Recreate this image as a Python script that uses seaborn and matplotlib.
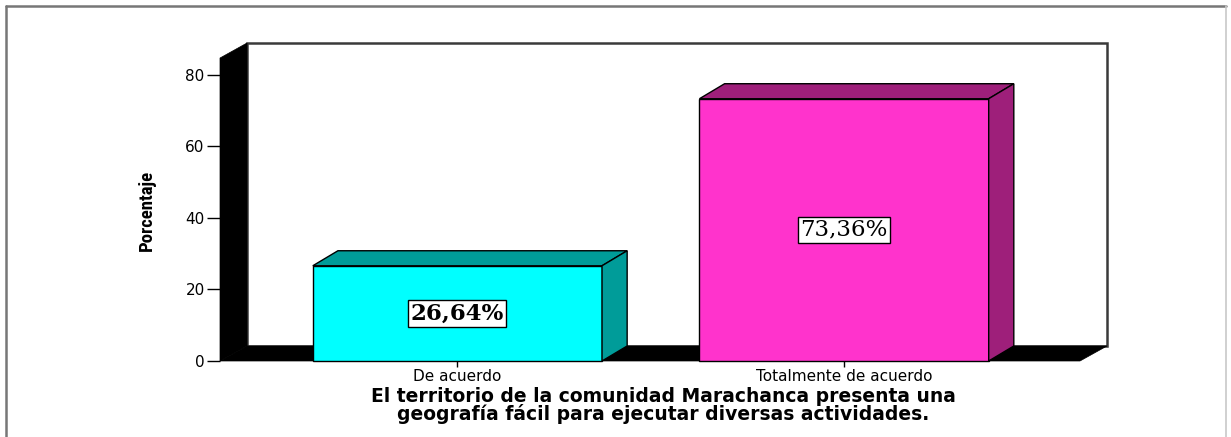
import matplotlib
matplotlib.use("Agg")
import matplotlib.pyplot as plt
from matplotlib.patches import Polygon, Rectangle
from matplotlib.lines import Line2D
import seaborn as sns
import pandas as pd

# ---- data ----
categories = ["De acuerdo", "Totalmente de acuerdo"]
values = [26.64, 73.36]
yticks = [0, 20, 40, 60, 80]
ylabel = "Porcentaje"
xlabel = ("El territorio de la comunidad Marachanca presenta una\n"
          "geografía fácil para ejecutar diversas actividades.")

front_colors = ["#00FFFF", "#FF33CC"]
dark_colors = ["#009C99", "#9E1F7A"]

sns.set_style("white")
plt.rcParams["font.family"] = ["DejaVu Sans"]
plt.rcParams["text.color"] = "black"
plt.rcParams["axes.labelcolor"] = "black"
plt.rcParams["xtick.color"] = "black"
plt.rcParams["ytick.color"] = "black"

W, H = 1231, 437
fig = plt.figure(figsize=(W / 100, H / 100), dpi=100)
ax = fig.add_axes([220 / W, (H - 361) / H, (1107 - 220) / W, (361 - 43) / H])

df = pd.DataFrame({"cat": categories, "val": values})
sns.barplot(data=df, x="cat", y="val", hue="cat", palette=front_colors,
            saturation=1, width=0.748, edgecolor="black", linewidth=1.0,
            legend=False, ax=ax, zorder=3)

x0, x1 = -0.614, 1.680
ytop = 88.95
ax.set_xlim(x0, x1)
ax.set_ylim(0, ytop)
for s in ax.spines.values():
    s.set_visible(False)

DX, DY = 0.0699, 4.2      # wall depth
BDX, BDY = 0.065, 4.2     # bar depth

# back wall
ax.add_patch(Rectangle((x0 + DX, DY), x1 - x0 - DX, ytop - DY, facecolor="white",
                       edgecolor="#3a3a3a", linewidth=1.8, zorder=0, clip_on=False))
# left wall
ax.add_patch(Polygon([(x0, 0), (x0, ytop - DY), (x0 + DX, ytop), (x0 + DX, DY)],
                     closed=True, facecolor="black", edgecolor="black", lw=0.5,
                     zorder=1, clip_on=False))
# floor
ax.add_patch(Polygon([(x0, 0), (x0 + DX, DY), (x1, DY), (x1 - DX, 0)],
                     closed=True, facecolor="black", edgecolor="black", lw=0.5,
                     zorder=1, clip_on=False))

# 3D faces of bars
bars = [pp for pp in ax.patches if pp.get_zorder() == 3]
for i, p in enumerate(bars):
    p.set_edgecolor("black")
    p.set_linewidth(1.0)
    p.set_clip_on(False)
    bx, bw, bh = p.get_x(), p.get_width(), p.get_height()
    top = Polygon([(bx, bh), (bx + BDX, bh + BDY), (bx + bw + BDX, bh + BDY), (bx + bw, bh)],
                  closed=True, facecolor=dark_colors[i], edgecolor="black", lw=1.0, zorder=3)
    side = Polygon([(bx + bw, 0), (bx + bw, bh), (bx + bw + BDX, bh + BDY), (bx + bw + BDX, BDY)],
                   closed=True, facecolor=dark_colors[i], edgecolor="black", lw=1.0, zorder=3)
    ax.add_patch(top)
    ax.add_patch(side)
    lbl = f"{values[i]:.2f}".replace(".", ",") + "%"
    ax.text(bx + bw / 2, bh / 2, lbl, ha="center", va="center", zorder=5,
            family=["DejaVu Serif"], fontweight="bold" if i == 0 else "normal",
            fontsize=16.5, color="black",
            bbox=dict(boxstyle="square,pad=0.1", facecolor="white",
                      edgecolor="black", linewidth=1.0))

ax.set_yticks(yticks)
ax.set_yticklabels([str(t) for t in yticks])
ax.tick_params(axis="y", left=True, length=9.5, width=1.0, pad=1.5,
               labelsize=11, color="black", labelcolor="black")
ax.tick_params(axis="x", bottom=True, length=4.5, width=1.0, pad=1.5,
               labelsize=11, color="black", labelcolor="black")
ax.set_ylabel("")
ax.set_xlabel(xlabel, fontsize=13.5, fontweight="bold", labelpad=2,
              linespacing=0.88, color="black")

fig.text(147 / W, 1 - 210 / H, ylabel, rotation=90, ha="center", va="center",
         family=["Roboto Condensed", "Roboto", "DejaVu Sans"], fontweight="bold",
         fontsize=13.5, color="black")

# outer frame
fig.add_artist(Line2D([5.5 / W, 5.5 / W], [0, 1 - 5.5 / H], transform=fig.transFigure,
                      color="#777777", lw=1.8))
fig.add_artist(Line2D([5.5 / W, 1226 / W], [1 - 5.5 / H, 1 - 5.5 / H],
                      transform=fig.transFigure, color="#777777", lw=1.8))
fig.add_artist(Line2D([1226 / W, 1226 / W], [0, 1 - 5.5 / H], transform=fig.transFigure,
                      color="#c8c8c8", lw=1.2))

fig.savefig("out.png", dpi=100, facecolor="white")
